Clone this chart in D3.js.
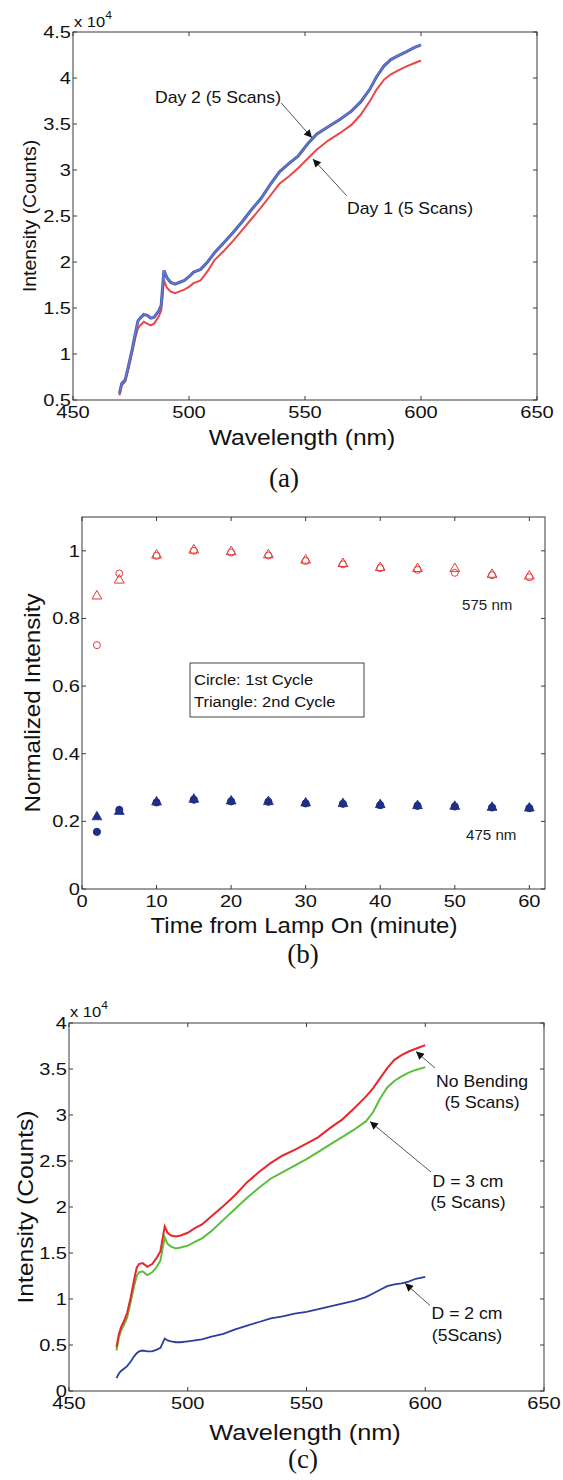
<!DOCTYPE html>
<html><head><meta charset="utf-8">
<script src="https://cdn.jsdelivr.net/npm/d3@7"></script>
<style>body{margin:0;background:#fff}svg{display:block}</style>
</head><body><svg id="c" width="563" height="1480"></svg>
<script>
// ---------- DATA ----------
// Panel (a): wavelength grid and two days (x10^4 counts)
const wlA = [470,471,472.5,474,475.5,477,478,479,480.5,482,483.5,485,487,488,489.2,490.5,492,494,496,498,500,502,505,508,511,515,519,523,527,531,535,539,543,547,551,555,560,565,570,574,578,581,584,587,590,594,597,600];
const day2 = [0.57,0.68,0.72,0.88,1.05,1.24,1.36,1.39,1.43,1.42,1.39,1.40,1.47,1.53,1.91,1.83,1.78,1.76,1.78,1.80,1.84,1.89,1.92,2.00,2.10,2.21,2.32,2.44,2.57,2.69,2.84,2.98,3.07,3.15,3.28,3.39,3.47,3.55,3.64,3.74,3.88,4.02,4.13,4.20,4.24,4.29,4.33,4.36];
const day1 = [0.55,0.66,0.70,0.85,1.02,1.19,1.28,1.31,1.35,1.33,1.31,1.33,1.41,1.47,1.80,1.72,1.68,1.66,1.68,1.70,1.73,1.77,1.80,1.90,2.02,2.12,2.23,2.35,2.47,2.59,2.72,2.85,2.93,3.02,3.12,3.22,3.32,3.40,3.49,3.60,3.75,3.88,3.98,4.04,4.08,4.13,4.16,4.19];
const xTicksWl = [450,500,550,600,650];
const yTicksA = [0.5,1,1.5,2,2.5,3,3.5,4,4.5];

// Panel (b): time and normalized intensities
const times = [2,5,10,15,20,25,30,35,40,45,50,55,60];
const c575Cycle1 = [0.721,0.933,0.985,1.0,0.995,0.986,0.970,0.960,0.949,0.944,0.935,0.928,0.922];
const c575Cycle2 = [0.866,0.913,0.987,1.002,0.997,0.988,0.972,0.962,0.950,0.947,0.947,0.930,0.925];
const c475Cycle1 = [0.169,0.234,0.256,0.264,0.259,0.258,0.253,0.252,0.248,0.246,0.244,0.241,0.239];
const c475Cycle2 = [0.213,0.229,0.257,0.265,0.260,0.258,0.254,0.252,0.249,0.246,0.244,0.241,0.239];
const xTicksB = [0,10,20,30,40,50,60];
const yTicksB = [0,0.2,0.4,0.6,0.8,1];

// Panel (c): bending
const wlC = [470,471,472,473,474.5,476,477.5,478.5,479.5,481,483,485,487,488.5,490.3,491.5,493,495,497,500,503,506,510,515,520,525,530,535,540,545,550,555,560,565,570,575,578,581,584,587,590,593,596,600];
const noBend = [0.48,0.62,0.70,0.75,0.85,1.02,1.22,1.34,1.38,1.39,1.35,1.38,1.45,1.52,1.79,1.72,1.69,1.68,1.69,1.72,1.77,1.81,1.90,2.01,2.13,2.27,2.38,2.48,2.56,2.62,2.69,2.76,2.86,2.95,3.07,3.20,3.29,3.40,3.51,3.60,3.65,3.69,3.72,3.76];
const bend3 = [0.44,0.58,0.66,0.71,0.80,0.97,1.15,1.25,1.29,1.30,1.26,1.29,1.35,1.42,1.67,1.60,1.57,1.55,1.56,1.58,1.62,1.66,1.74,1.86,1.98,2.10,2.21,2.31,2.38,2.45,2.52,2.60,2.68,2.76,2.84,2.93,3.03,3.18,3.30,3.37,3.42,3.46,3.49,3.52];
const bend2 = [0.14,0.19,0.22,0.24,0.27,0.32,0.38,0.41,0.43,0.44,0.43,0.43,0.45,0.47,0.57,0.55,0.54,0.53,0.53,0.54,0.55,0.56,0.59,0.62,0.67,0.71,0.75,0.79,0.81,0.84,0.86,0.89,0.92,0.95,0.98,1.02,1.06,1.10,1.14,1.16,1.17,1.19,1.22,1.24];
const yTicksC = [0,0.5,1,1.5,2,2.5,3,3.5,4];

// ---------- DRAWING ----------
const svg = d3.select("#c");
const SANS = "'Liberation Sans', Arial, Helvetica, sans-serif";
const SERIF = "'Liberation Serif', 'Times New Roman', serif";
const AX = "#3a3a3a";

function txt(g, x, y, s, o = {}) {
  const size = o.size || 16, sx = o.sx || 1.12, rot = o.rot || 0;
  return g.append("text")
    .attr("transform", `translate(${x},${y})` + (rot ? ` rotate(${rot})` : "") + ` scale(${sx},1)`)
    .attr("font-family", o.family || SANS).attr("font-size", size)
    .attr("text-anchor", o.anchor || "start").attr("fill", o.fill || "#111")
    .text(s);
}

function frame(x, y, xt, yt, fmtY, tickLen) {
  const [x0, x1] = x.range(), [y0, y1] = y.range();
  const g = svg.append("g");
  g.append("rect").attr("x", x0).attr("y", y1).attr("width", x1 - x0).attr("height", y0 - y1)
    .attr("fill", "none").attr("stroke", AX).attr("stroke-width", 1);
  xt.forEach(t => {
    const px = x(t);
    g.append("line").attr("x1", px).attr("x2", px).attr("y1", y0).attr("y2", y0 - tickLen).attr("stroke", AX);
    g.append("line").attr("x1", px).attr("x2", px).attr("y1", y1).attr("y2", y1 + tickLen).attr("stroke", AX);
    txt(g, px, y0 + 18, String(t), {anchor: "middle", size: 17, sx: 1.18});
  });
  yt.forEach(t => {
    const py = y(t);
    g.append("line").attr("x1", x0).attr("x2", x0 + tickLen).attr("y1", py).attr("y2", py).attr("stroke", AX);
    g.append("line").attr("x1", x1).attr("x2", x1 - tickLen).attr("y1", py).attr("y2", py).attr("stroke", AX);
    txt(g, x0 - 2, py + 6, fmtY(t), {anchor: "end", size: 17, sx: 1.18});
  });
  return g;
}

function exponent(g, x, y) {
  const t = g.append("text").attr("transform", `translate(${x},${y}) scale(1.1,1)`)
    .attr("font-family", SANS).attr("font-size", 15).attr("fill", "#111");
  t.append("tspan").text("x 10");
  t.append("tspan").attr("dy", -8).attr("font-size", 11).text("4");
}

svg.append("defs").append("marker").attr("id", "ah").attr("viewBox", "0 0 10 10")
  .attr("refX", 10).attr("refY", 5).attr("markerWidth", 10).attr("markerHeight", 8)
  .attr("markerUnits", "userSpaceOnUse").attr("orient", "auto")
  .append("path").attr("d", "M0,0 L10,5 L0,10 Z").attr("fill", "#111");

function arrow(g, x, y, from, to) {
  g.append("line").attr("x1", x(from[0])).attr("y1", y(from[1]))
    .attr("x2", x(to[0])).attr("y2", y(to[1]))
    .attr("stroke", "#555").attr("stroke-width", 1).attr("marker-end", "url(#ah)");
}

const fmt = d => String(d);

// ----- Panel (a) -----
{
  const x = d3.scaleLinear().domain([450, 650]).range([73, 537]);
  const y = d3.scaleLinear().domain([0.5, 4.5]).range([400, 32]);
  const g = frame(x, y, xTicksWl, yTicksA, fmt, 4);
  exponent(g, 74, 27);
  const line = d3.line().x((d, i) => x(wlA[i])).y(d => y(d));
  g.append("path").datum(day1).attr("d", line).attr("fill", "none").attr("stroke", "#e84848").attr("stroke-width", 2);
  g.append("path").datum(day2).attr("d", line).attr("fill", "none").attr("stroke", "#4a5fb8").attr("stroke-width", 3);
  g.append("path").datum(day2).attr("d", line).attr("fill", "none").attr("stroke", "#8f9ad6").attr("stroke-width", 0.6);
  txt(g, 281, 103, "Day 2 (5 Scans)", {anchor: "end", size: 16, sx: 1.1});
  arrow(g, x, y, [539.7, 3.73], [553, 3.35]);
  txt(g, 347, 214, "Day 1 (5 Scans)", {size: 16, sx: 1.1});
  arrow(g, x, y, [568, 2.72], [553.4, 3.12]);
  txt(g, 302, 445, "Wavelength (nm)", {anchor: "middle", size: 22, sx: 1.12});
  txt(g, 36, (32 + 400) / 2, "Intensity (Counts)", {anchor: "middle", size: 18, sx: 1.08, rot: -90});
  txt(g, 284, 487, "(a)", {anchor: "middle", size: 27, sx: 1, family: SERIF});
}

// ----- Panel (b) -----
{
  const x = d3.scaleLinear().domain([0, 62.1]).range([82, 545]);
  const y = d3.scaleLinear().domain([0, 1.1]).range([889, 517]);
  const g = frame(x, y, xTicksB, yTicksB, fmt, 4);
  const red = "#e33a3a", navy = "#1f2f86";
  const tri = d3.symbol().type(d3.symbolTriangle).size(42);
  // 575 nm
  g.selectAll(null).data(c575Cycle2).join("path")
    .attr("transform", (d, i) => `translate(${x(times[i])},${y(d)})`).attr("d", tri)
    .attr("fill", "none").attr("stroke", red).attr("stroke-width", 1);
  g.selectAll(null).data(c575Cycle1).join("circle")
    .attr("cx", (d, i) => x(times[i])).attr("cy", d => y(d)).attr("r", 3.5)
    .attr("fill", "none").attr("stroke", red).attr("stroke-width", 1);
  // 475 nm
  g.selectAll(null).data(c475Cycle2).join("path")
    .attr("transform", (d, i) => `translate(${x(times[i])},${y(d)})`).attr("d", tri)
    .attr("fill", navy).attr("stroke", navy).attr("stroke-width", 0.8);
  g.selectAll(null).data(c475Cycle1).join("circle")
    .attr("cx", (d, i) => x(times[i])).attr("cy", d => y(d)).attr("r", 3.6)
    .attr("fill", navy).attr("stroke", navy);
  txt(g, 462, 610, "575 nm", {size: 14, sx: 1.08, fill: "#222"});
  txt(g, 466, 840, "475 nm", {size: 14, sx: 1.08, fill: "#222"});
  g.append("rect").attr("x", 190).attr("y", 663).attr("width", 174).attr("height", 54)
    .attr("fill", "#fff").attr("stroke", "#444").attr("stroke-width", 1);
  txt(g, 194, 685, "Circle: 1st Cycle", {size: 15, sx: 1.1});
  txt(g, 194, 707, "Triangle: 2nd Cycle", {size: 15, sx: 1.1});
  txt(g, 304, 933, "Time from Lamp On (minute)", {anchor: "middle", size: 22, sx: 1.09});
  txt(g, 40, 703, "Normalized Intensity", {anchor: "middle", size: 22, sx: 1.1, rot: -90});
  txt(g, 303, 963, "(b)", {anchor: "middle", size: 27, sx: 1, family: SERIF});
}

// ----- Panel (c) -----
{
  const x = d3.scaleLinear().domain([450, 650]).range([69, 544]);
  const y = d3.scaleLinear().domain([0, 4]).range([1391, 1023]);
  const g = frame(x, y, xTicksWl, yTicksC, fmt, 4);
  exponent(g, 70, 1017);
  const line = d3.line().x((d, i) => x(wlC[i])).y(d => y(d));
  g.append("path").datum(bend2).attr("d", line).attr("fill", "none").attr("stroke", "#2c3f9c").attr("stroke-width", 1.8);
  g.append("path").datum(bend3).attr("d", line).attr("fill", "none").attr("stroke", "#5cbd3c").attr("stroke-width", 2);
  g.append("path").datum(noBend).attr("d", line).attr("fill", "none").attr("stroke", "#e8262c").attr("stroke-width", 2);
  txt(g, 482, 1087, "No Bending", {anchor: "middle", size: 16, sx: 1.1});
  txt(g, 482, 1108, "(5 Scans)", {anchor: "middle", size: 16, sx: 1.1});
  arrow(g, x, y, [604.1, 3.51], [596.1, 3.69]);
  txt(g, 468, 1187, "D = 3 cm", {anchor: "middle", size: 16, sx: 1.1});
  txt(g, 468, 1208, "(5 Scans)", {anchor: "middle", size: 16, sx: 1.1});
  arrow(g, x, y, [602.4, 2.38], [576.7, 2.93]);
  txt(g, 467, 1319, "D = 2 cm", {anchor: "middle", size: 16, sx: 1.1});
  txt(g, 467, 1341, "(5Scans)", {anchor: "middle", size: 16, sx: 1.1});
  arrow(g, x, y, [602, 0.93], [591.5, 1.17]);
  txt(g, 305, 1440, "Wavelength (nm)", {anchor: "middle", size: 22, sx: 1.15});
  txt(g, 33, (1023 + 1391) / 2, "Intensity (Counts)", {anchor: "middle", size: 22, sx: 1.12, rot: -90});
  txt(g, 303, 1468, "(c)", {anchor: "middle", size: 27, sx: 1, family: SERIF});
}
</script></body></html>
